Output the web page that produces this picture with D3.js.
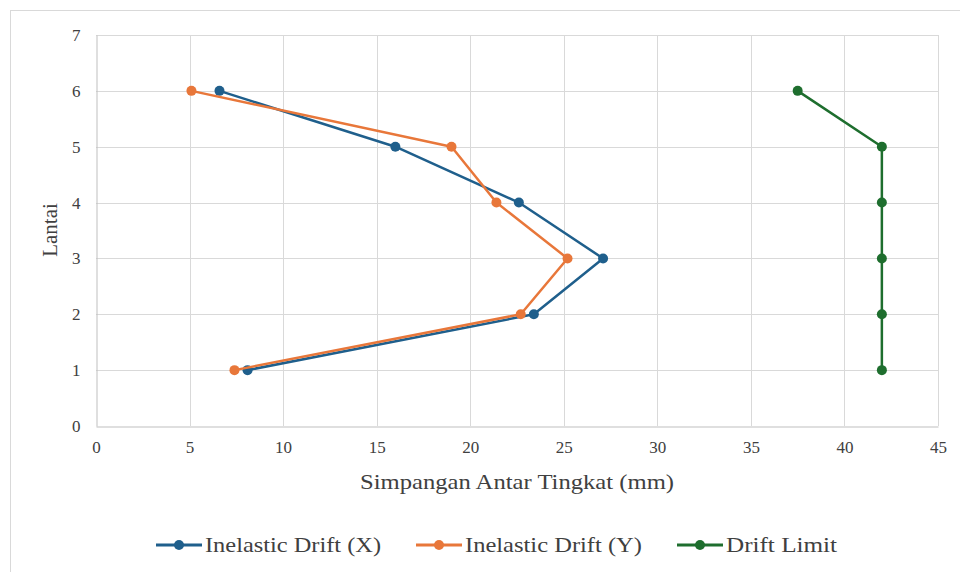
<!DOCTYPE html>
<html>
<head>
<meta charset="utf-8">
<script src="https://cdn.jsdelivr.net/npm/d3@7"></script>
<style>
  html, body { margin: 0; padding: 0; background: #fff; }
  svg { display: block; }
</style>
</head>
<body>
<svg id="chart" width="960" height="572"></svg>
<script>
// Storey levels (Lantai)
const floors = [1, 2, 3, 4, 5, 6];
// Inter-storey drift values (mm)
const driftX = [8.1, 23.4, 27.1, 22.6, 16.0, 6.6];
const driftY = [7.4, 22.7, 25.2, 21.4, 19.0, 5.1];
const driftLimit = [42, 42, 42, 42, 42, 37.5];

const xTicks = [0, 5, 10, 15, 20, 25, 30, 35, 40, 45];
const yTicks = [0, 1, 2, 3, 4, 5, 6, 7];

const seriesNames = ["Inelastic Drift (X)", "Inelastic Drift (Y)", "Drift Limit"];
const seriesColors = ["#1f5f8c", "#e8773a", "#1e6e2e"];
const seriesValues = [driftX, driftY, driftLimit];

const FONT = "Liberation Serif";
const TEXT = "#404040";

const svg = d3.select("#chart");

// outer chart frame
svg.append("rect")
  .attr("x", 10.5).attr("y", 10.5)
  .attr("width", 960).attr("height", 580)
  .attr("fill", "#fff").attr("stroke", "#d9d9d9").attr("stroke-width", 1);

const plot = { left: 96, right: 938, top: 35, bottom: 426 };

const x = d3.scaleLinear().domain([0, 45]).range([plot.left, plot.right]);
const y = d3.scaleLinear().domain([0, 7]).range([plot.bottom, plot.top]);

// gridlines
const grid = svg.append("g");
grid.selectAll("line.v").data(xTicks.slice(1)).join("line")
  .attr("x1", d => Math.round(x(d)) + 0.5).attr("x2", d => Math.round(x(d)) + 0.5)
  .attr("y1", plot.top).attr("y2", plot.bottom)
  .attr("stroke", "#d9d9d9").attr("stroke-width", 1);
grid.selectAll("line.h").data(yTicks.slice(1)).join("line")
  .attr("y1", d => Math.round(y(d)) + 0.5).attr("y2", d => Math.round(y(d)) + 0.5)
  .attr("x1", plot.left).attr("x2", plot.right)
  .attr("stroke", "#d9d9d9").attr("stroke-width", 1);

// axes
const xAxis = d3.axisBottom(x).tickValues(xTicks).tickFormat(d3.format("d")).tickSize(0).tickPadding(14);
const gx = svg.append("g").attr("transform", `translate(0,${Math.round(plot.bottom) + 0.5})`).call(xAxis);
gx.attr("font-family", FONT).attr("font-size", 17);
gx.select(".domain").attr("stroke", "#bfbfbf");
gx.selectAll("text").attr("fill", TEXT);

const yAxis = d3.axisLeft(y).tickValues(yTicks).tickFormat(d3.format("d")).tickSize(0).tickPadding(16);
const gy = svg.append("g").attr("transform", `translate(${plot.left + 0.5},0)`).call(yAxis);
gy.attr("font-family", FONT).attr("font-size", 17);
gy.select(".domain").attr("stroke", "#bfbfbf");
gy.selectAll("text").attr("fill", TEXT);

// axis titles
svg.append("text")
  .attr("x", 517).attr("y", 489)
  .attr("text-anchor", "middle").attr("font-size", 21).attr("fill", TEXT)
  .attr("font-family", FONT)
  .attr("textLength", 314).attr("lengthAdjust", "spacingAndGlyphs")
  .text("Simpangan Antar Tingkat (mm)");
svg.append("text")
  .attr("transform", `translate(57,230) rotate(-90)`)
  .attr("text-anchor", "middle").attr("font-size", 21).attr("fill", TEXT)
  .attr("font-family", FONT)
  .text("Lantai");

// series lines and markers
const line = d3.line().x(d => x(d.v)).y(d => y(d.f));
seriesValues.forEach((vals, i) => {
  const pts = floors.map((f, k) => ({ f, v: vals[k] }));
  const g = svg.append("g");
  g.append("path").datum(pts)
    .attr("d", line).attr("fill", "none")
    .attr("stroke", seriesColors[i]).attr("stroke-width", 2.5)
    .attr("stroke-linejoin", "round");
  g.selectAll("circle").data(pts).join("circle")
    .attr("cx", d => x(d.v)).attr("cy", d => y(d.f)).attr("r", 5)
    .attr("fill", seriesColors[i]);
});

// legend
const legendX = [156, 416, 677];
const legendTextW = [176, 177, 111];
const legend = svg.append("g");
seriesNames.forEach((name, i) => {
  const lg = legend.append("g").attr("transform", `translate(${legendX[i]},545)`);
  lg.append("line").attr("x1", 0).attr("x2", 46).attr("y1", 0).attr("y2", 0)
    .attr("stroke", seriesColors[i]).attr("stroke-width", 3);
  lg.append("circle").attr("cx", 23).attr("cy", 0).attr("r", 5).attr("fill", seriesColors[i]);
  lg.append("text").attr("x", 49).attr("y", 7)
    .attr("font-family", FONT)
    .attr("textLength", legendTextW[i]).attr("lengthAdjust", "spacingAndGlyphs")
    .attr("font-size", 22).attr("fill", TEXT).text(name);
});
</script>
</body>
</html>
